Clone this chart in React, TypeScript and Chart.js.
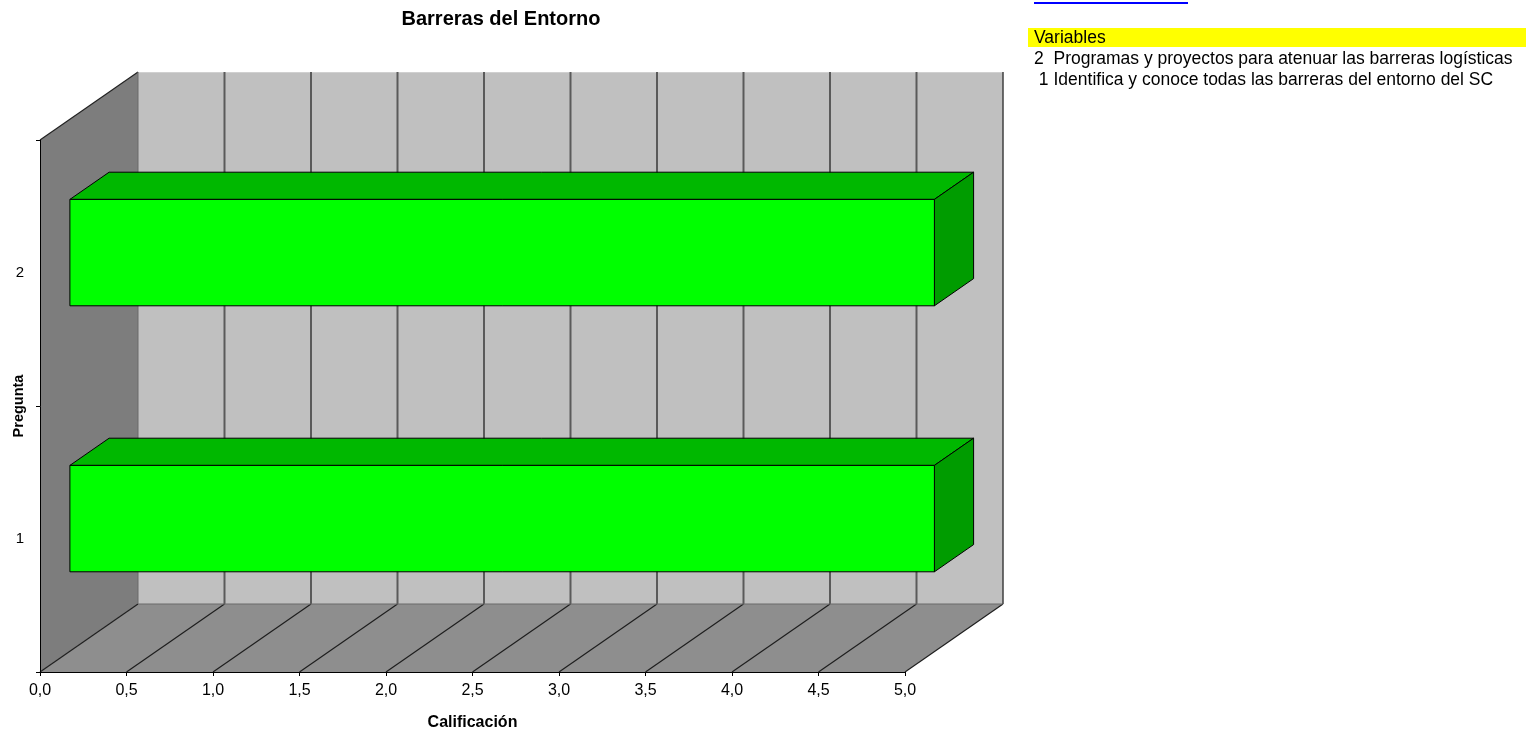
import React, { useEffect, useRef } from "react";
import { Chart, registerables } from "chart.js";

Chart.register(...registerables);

const chartTitle = "Barreras del Entorno";
const categories = ["1", "2"];
const scores = [5.0, 5.0];
const xMin = 0;
const xMax = 5;
const xStep = 0.5;
const xAxisTitle = "Calificación";
const yAxisTitle = "Pregunta";
const legendHeader = "Variables";
const legendLines = [
  "2  Programas y proyectos para atenuar las barreras logísticas",
  " 1 Identifica y conoce todas las barreras del entorno del SC",
];

const DEPTH_X = 98;
const DEPTH_Y = -68;
const BAR_FRONT = 0.3;
const BAR_BACK = 0.7;

const fmt = (v: number) => v.toFixed(1).replace(".", ",");

const walls3d = {
  id: "walls3d",
  beforeDraw(chart: any) {
    const { ctx, chartArea } = chart;
    const xs = chart.scales.x;
    const l = xs.getPixelForValue(xMin);
    const r = xs.getPixelForValue(xMax);
    const t = chartArea.top;
    const b = chartArea.bottom;
    const dx = DEPTH_X;
    const dy = DEPTH_Y;
    ctx.save();
    ctx.fillStyle = "#c0c0c0";
    ctx.fillRect(l + dx, t + dy, r - l, b - t);
    ctx.fillStyle = "#7d7d7d";
    ctx.beginPath();
    ctx.moveTo(l, t);
    ctx.lineTo(l + dx, t + dy);
    ctx.lineTo(l + dx, b + dy);
    ctx.lineTo(l, b);
    ctx.closePath();
    ctx.fill();
    ctx.fillStyle = "#8e8e8e";
    ctx.beginPath();
    ctx.moveTo(l, b);
    ctx.lineTo(r, b);
    ctx.lineTo(r + dx, b + dy);
    ctx.lineTo(l + dx, b + dy);
    ctx.closePath();
    ctx.fill();
    ctx.strokeStyle = "#d0d0d0";
    ctx.lineWidth = 1;
    ctx.beginPath();
    ctx.moveTo(l + dx, t + dy + 0.5);
    ctx.lineTo(r + dx, t + dy + 0.5);
    ctx.stroke();
    ctx.strokeStyle = "#404040";
    ctx.lineWidth = 1.5;
    ctx.beginPath();
    ctx.moveTo(r + dx, t + dy);
    ctx.lineTo(r + dx, b + dy);
    ctx.stroke();
    ctx.strokeStyle = "#5a5a5a";
    ctx.lineWidth = 2;
    for (let v = xMin + xStep; v < xMax - 1e-9; v += xStep) {
      const px = xs.getPixelForValue(v) + dx;
      ctx.beginPath();
      ctx.moveTo(px, t + dy);
      ctx.lineTo(px, b + dy);
      ctx.stroke();
    }
    ctx.strokeStyle = "#1e1e1e";
    ctx.lineWidth = 1.2;
    for (let v = xMin; v <= xMax + 1e-9; v += xStep) {
      const px = xs.getPixelForValue(v);
      ctx.beginPath();
      ctx.moveTo(px, b);
      ctx.lineTo(px + dx, b + dy);
      ctx.stroke();
    }
    ctx.strokeStyle = "#222";
    ctx.lineWidth = 1.2;
    ctx.beginPath();
    ctx.moveTo(l, t);
    ctx.lineTo(l + dx, t + dy);
    ctx.stroke();
    ctx.strokeStyle = "#6a6a6a";
    ctx.lineWidth = 1;
    ctx.beginPath();
    ctx.moveTo(l + dx, t + dy);
    ctx.lineTo(l + dx, b + dy);
    ctx.lineTo(r + dx, b + dy);
    ctx.stroke();
    ctx.restore();
  },
  afterDatasetsDraw(chart: any) {
    const { ctx } = chart;
    const meta = chart.getDatasetMeta(0);
    const fx = DEPTH_X * BAR_FRONT;
    const fy = DEPTH_Y * BAR_FRONT;
    const bx = DEPTH_X * BAR_BACK;
    const by = DEPTH_Y * BAR_BACK;
    ctx.save();
    ctx.strokeStyle = "#000";
    ctx.lineWidth = 1;
    meta.data.forEach((el: any) => {
      const p = el.getProps(["x", "y", "base", "height"], true);
      const top = p.y - p.height / 2;
      const bot = p.y + p.height / 2;
      const x0 = p.base;
      const x1 = p.x;
      ctx.fillStyle = "#00b800";
      ctx.beginPath();
      ctx.moveTo(x0 + fx, top + fy);
      ctx.lineTo(x1 + fx, top + fy);
      ctx.lineTo(x1 + bx, top + by);
      ctx.lineTo(x0 + bx, top + by);
      ctx.closePath();
      ctx.fill();
      ctx.stroke();
      ctx.fillStyle = "#009c00";
      ctx.beginPath();
      ctx.moveTo(x1 + fx, top + fy);
      ctx.lineTo(x1 + bx, top + by);
      ctx.lineTo(x1 + bx, bot + by);
      ctx.lineTo(x1 + fx, bot + fy);
      ctx.closePath();
      ctx.fill();
      ctx.stroke();
      ctx.fillStyle = "#00ff00";
      ctx.beginPath();
      ctx.rect(x0 + fx, top + fy, x1 - x0, bot - top);
      ctx.fill();
      ctx.stroke();
    });
    ctx.restore();
  },
};

export default function App() {
  const ref = useRef<HTMLCanvasElement | null>(null);
  useEffect(() => {
    document.body.style.margin = "0";
    if (!ref.current) return;
    const font = "Arial, 'Liberation Sans', sans-serif";
    const chart = new Chart(ref.current, {
      type: "bar",
      data: {
        labels: categories,
        datasets: [
          {
            data: scores,
            backgroundColor: "rgba(0,0,0,0)",
            borderWidth: 0,
            barPercentage: 0.4,
            categoryPercentage: 1,
          },
        ],
      },
      plugins: [walls3d],
      options: {
        indexAxis: "y",
        responsive: false,
        animation: false,
        devicePixelRatio: 1,
        layout: { padding: { left: 0, right: 99, top: 140, bottom: 0 } },
        plugins: {
          legend: { display: false },
          tooltip: { enabled: false },
          title: { display: false },
        },
        scales: {
          x: {
            type: "linear",
            min: xMin,
            max: xMax,
            afterFit: (s: any) => {
              s.height = 60;
            },
            ticks: {
              stepSize: xStep,
              color: "#000",
              padding: 5,
              font: { family: font, size: 16 },
              callback: (v: any) => fmt(Number(v)),
            },
            grid: {
              display: true,
              drawOnChartArea: false,
              drawTicks: true,
              tickLength: 4,
              color: "#000",
            },
            border: { display: true, color: "#000", width: 1 },
            title: {
              display: true,
              text: xAxisTitle,
              color: "#000",
              font: { family: font, size: 16, weight: "bold" },
              padding: { top: 0, bottom: 0 },
            },
          },
          y: {
            type: "category",
            reverse: true,
            afterFit: (s: any) => {
              s.width = 40;
            },
            ticks: {
              color: "#000",
              padding: 12,
              font: { family: font, size: 15 },
            },
            grid: {
              display: true,
              offset: true,
              drawOnChartArea: false,
              drawTicks: true,
              tickLength: 4,
              color: "#000",
            },
            border: { display: true, color: "#000", width: 1 },
            title: {
              display: true,
              text: yAxisTitle,
              color: "#000",
              font: { family: font, size: 14.5, weight: "bold" },
              padding: { top: 10, bottom: 0 },
            },
          },
        },
      },
    } as any);
    return () => chart.destroy();
  }, []);

  const legendFont = "Arial, 'Liberation Sans', sans-serif";
  return (
    <div style={{ position: "fixed", left: 0, top: 0, width: 1526, height: 732, background: "#fff" }}>
      <canvas ref={ref} width={1004} height={732} style={{ position: "absolute", left: 0, top: 0 }} />
      <div
        style={{
          position: "absolute",
          left: 0,
          top: 6,
          width: 1002,
          textAlign: "center",
          fontFamily: legendFont,
          fontWeight: "bold",
          fontSize: 20,
          lineHeight: "24px",
          color: "#000",
        }}
      >
        {chartTitle}
      </div>
      <div style={{ position: "absolute", left: 1034, top: 2, width: 154, height: 2, background: "#0000ff" }} />
      <div
        style={{
          position: "absolute",
          left: 1028,
          top: 28,
          width: 498,
          height: 19,
          background: "#ffff00",
        }}
      />
      <div
        style={{
          position: "absolute",
          left: 1034,
          top: 27,
          fontFamily: legendFont,
          fontSize: 17.5,
          lineHeight: "21px",
          color: "#000",
          whiteSpace: "pre",
        }}
      >
        <div>{legendHeader}</div>
        {legendLines.map((t, i) => (
          <div key={i}>{t}</div>
        ))}
      </div>
    </div>
  );
}
